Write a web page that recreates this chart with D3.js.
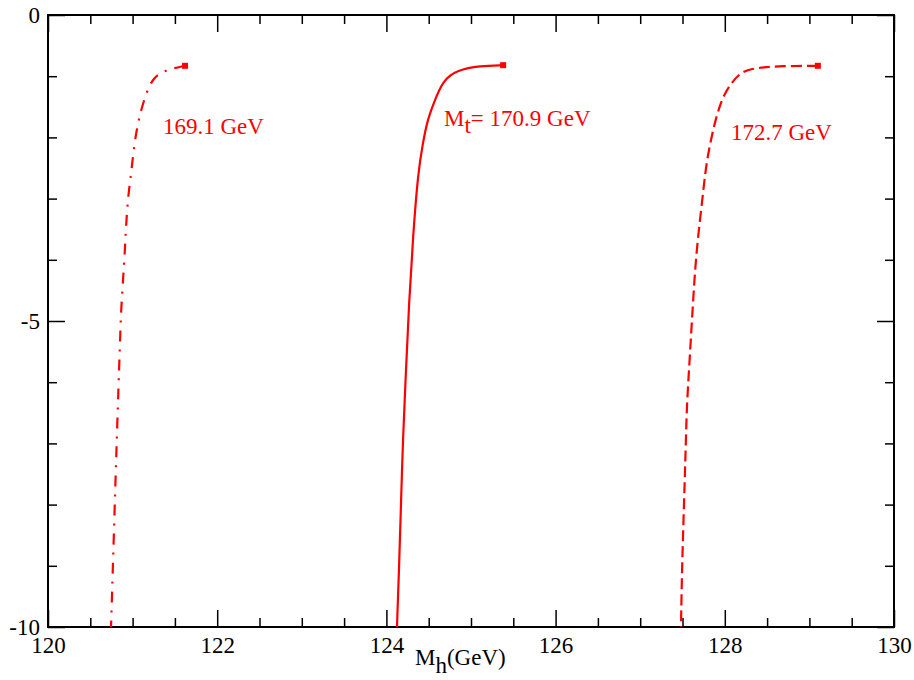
<!DOCTYPE html>
<html>
<head>
<meta charset="utf-8">
<script src="https://cdn.jsdelivr.net/npm/d3@7"></script>
<style>
  body { margin: 0; background: #fff; }
  svg text { font-family: 'Liberation Serif', 'Times New Roman', Times, 'DejaVu Serif', serif; }
</style>
</head>
<body>
<script>
// curves: [Mh, value], top end first
var curve169 = [
  [121.62, -0.83], [121.38, -0.90], [121.24, -1.03], [121.16, -1.28], [121.09, -1.60],
  [121.04, -1.93], [121.005, -2.29], [120.98, -2.63], [120.946, -2.97], [120.922, -3.46],
  [120.91, -3.82], [120.887, -4.33], [120.863, -4.84], [120.851, -5.36], [120.816, -6.78],
  [120.78, -8.42], [120.745, -10.0]
];
var curve1709 = [
  [125.38, -0.82], [125.11, -0.83], [124.835, -0.90], [124.67, -1.06], [124.55, -1.47],
  [124.48, -1.75], [124.433, -2.08], [124.374, -2.57], [124.314, -3.63], [124.267, -4.71],
  [124.232, -5.80], [124.196, -6.90], [124.173, -7.97], [124.149, -9.07], [124.125, -10.0]
];
var curve1727 = [
  [129.10, -0.83], [128.65, -0.835], [128.50, -0.85], [128.30, -0.88], [128.18, -0.95],
  [128.085, -1.10], [128.00, -1.28], [127.943, -1.47], [127.884, -1.75], [127.849, -1.96],
  [127.80, -2.29], [127.766, -2.61], [127.73, -3.07], [127.683, -3.63], [127.648, -4.17],
  [127.624, -4.71], [127.60, -5.26], [127.577, -5.80], [127.553, -6.34], [127.541, -6.90],
  [127.53, -7.44], [127.518, -7.97], [127.506, -8.53], [127.494, -9.07], [127.482, -10.0]
];
var xMajor = [120, 122, 124, 126, 128, 130];
var xMinor = [120.5, 121, 121.5, 122.5, 123, 123.5, 124.5, 125, 125.5, 126.5, 127, 127.5, 128.5, 129, 129.5];
var yMajor = [0, -5, -10];
var yMinor = [-1, -2, -3, -4, -6, -7, -8, -9];

var width = 914, height = 680;
var mLeft = 48, mRight = 894, mTop = 15, mBottom = 627;
var serif = "'Liberation Serif', 'Times New Roman', Times, 'DejaVu Serif', serif";

var svg = d3.select("body").append("svg")
  .attr("width", width)
  .attr("height", height);

var x = d3.scaleLinear().domain([120, 130]).range([mLeft, mRight]);
var y = d3.scaleLinear().domain([-10, 0]).range([mBottom, mTop]);

function styleAxis(g) {
  g.attr("font-family", serif);
  g.selectAll("path.domain").remove();
  g.selectAll("line").attr("stroke", "#000").attr("stroke-width", 1.5);
  g.selectAll("text").attr("font-family", serif).attr("font-size", 23).attr("fill", "#000");
}
var plain = function(d) { return String(d); }; // hyphen minus like the original

// bottom
svg.append("g").attr("transform", "translate(0," + mBottom + ")")
  .call(d3.axisBottom(x).tickValues(xMajor).tickSize(-17).tickPadding(10).tickFormat(plain))
  .call(styleAxis);
svg.append("g").attr("transform", "translate(0," + mBottom + ")")
  .call(d3.axisBottom(x).tickValues(xMinor).tickSize(-9).tickFormat(""))
  .call(styleAxis);
// top
svg.append("g").attr("transform", "translate(0," + mTop + ")")
  .call(d3.axisTop(x).tickValues(xMajor).tickSize(-17).tickFormat(""))
  .call(styleAxis);
svg.append("g").attr("transform", "translate(0," + mTop + ")")
  .call(d3.axisTop(x).tickValues(xMinor).tickSize(-9).tickFormat(""))
  .call(styleAxis);
// left
svg.append("g").attr("transform", "translate(" + mLeft + ",0)")
  .call(d3.axisLeft(y).tickValues(yMajor).tickSize(-17).tickPadding(8).tickFormat(plain))
  .call(styleAxis);
svg.append("g").attr("transform", "translate(" + mLeft + ",0)")
  .call(d3.axisLeft(y).tickValues(yMinor).tickSize(-9).tickFormat(""))
  .call(styleAxis);
// right
svg.append("g").attr("transform", "translate(" + mRight + ",0)")
  .call(d3.axisRight(y).tickValues(yMajor).tickSize(-17).tickFormat(""))
  .call(styleAxis);
svg.append("g").attr("transform", "translate(" + mRight + ",0)")
  .call(d3.axisRight(y).tickValues(yMinor).tickSize(-9).tickFormat(""))
  .call(styleAxis);

// frame
svg.append("rect")
  .attr("x", mLeft).attr("y", mTop)
  .attr("width", mRight - mLeft).attr("height", mBottom - mTop)
  .attr("fill", "none").attr("stroke", "#000").attr("stroke-width", 2);

var line = d3.line()
  .x(function(d) { return x(d[0]); })
  .y(function(d) { return y(d[1]); })
  .curve(d3.curveBasis);

var curves = [
  { data: curve169, dash: "11,8,2,8" },
  { data: curve1709, dash: null },
  { data: curve1727, dash: "11,5" }
];

curves.forEach(function(c) {
  svg.append("path")
    .attr("d", line(c.data))
    .attr("fill", "none")
    .attr("stroke", "#ff0000")
    .attr("stroke-width", 2.2)
    .attr("stroke-dasharray", c.dash);
  svg.append("rect")
    .attr("x", x(c.data[0][0]) - 3)
    .attr("y", y(c.data[0][1]) - 3)
    .attr("width", 6).attr("height", 6)
    .attr("fill", "#ff0000");
});

// labels
svg.append("text").attr("x", 163).attr("y", 134).attr("font-family", serif)
  .attr("font-size", 23).attr("fill", "#ff0000").text("169.1 GeV");
var mt = svg.append("text").attr("x", 444).attr("y", 126).attr("font-family", serif)
  .attr("font-size", 23).attr("fill", "#ff0000");
mt.append("tspan").text("M");
mt.append("tspan").attr("dy", 7).text("t");
mt.append("tspan").attr("dy", -7).text("= 170.9 GeV");
svg.append("text").attr("x", 731).attr("y", 140).attr("font-family", serif)
  .attr("font-size", 23).attr("fill", "#ff0000").text("172.7 GeV");

var xl = svg.append("text").attr("x", 415).attr("y", 665).attr("font-family", serif)
  .attr("font-size", 23).attr("fill", "#000");
xl.append("tspan").text("M");
xl.append("tspan").attr("dy", 8).text("h");
xl.append("tspan").attr("dy", -8).text("(GeV)");
</script>
</body>
</html>
